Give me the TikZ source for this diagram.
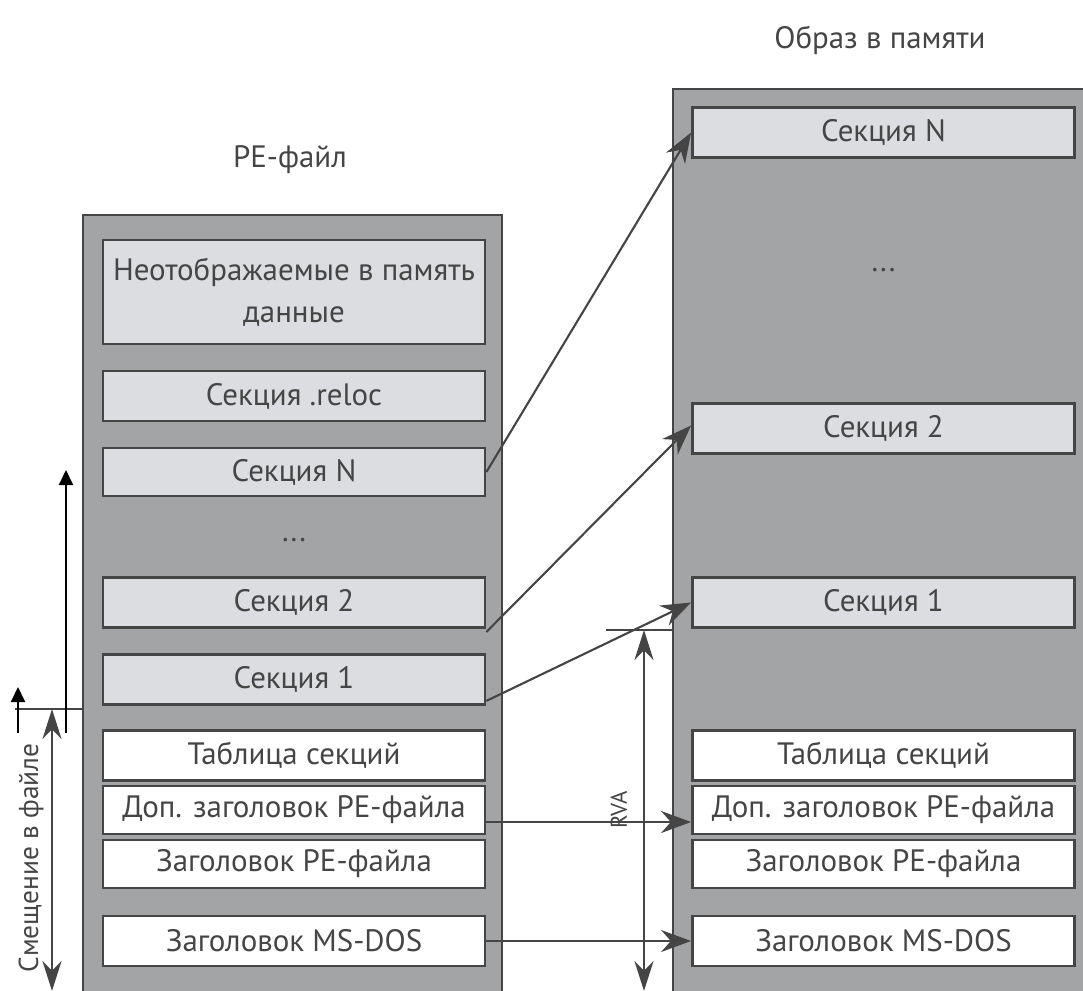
\documentclass[tikz,border=0pt]{standalone}
\usepackage{fontspec}
\setmainfont{PT Sans}
\usetikzlibrary{arrows.meta}
\definecolor{frame}{HTML}{A3A4A6}
\definecolor{cell}{HTML}{DCDDE0}
\definecolor{ink}{HTML}{454545}

\begin{document}
\begin{tikzpicture}[x=0.1mm, y=-0.1mm,
    every node/.style={font=\fontsize{8.8}{12}\selectfont, text=ink},
    outer/.style={draw=ink, line width=0.8pt, fill=frame, inner sep=0pt},
    sec/.style={draw=ink, line width=0.8pt, fill=cell, inner sep=0pt, minimum width=38.2mm, minimum height=5mm, align=center},
    hdr/.style={sec, fill=white},
    map/.style={draw=ink, line width=0.6pt, -{Stealth[length=3mm, width=2.2mm]}},
    dim/.style={draw=ink, line width=0.7pt, {Stealth[length=3mm, width=1.9mm]}-{Stealth[length=3mm, width=1.9mm]}},
    up/.style={draw=black, line width=0.6pt, -{Triangle[length=1.5mm, width=1.4mm]}}]
  \useasboundingbox (0,0) rectangle (1083,991);
  % outer blocks
  \node[outer, minimum width=41.9mm, minimum height=77.8mm] (pefile) at (292.5,604) {};
  \node[outer, minimum width=42mm, minimum height=90.8mm] (image) at (883,543) {};
  \node (petitle) at (290,160) {PE-файл};
  \node (imgtitle) at (880,40) {Образ в памяти};
  % PE file
  \node[sec, minimum height=10.4mm] (lraw) at (294,292) {Неотображаемые в память\\данные};
  \node[sec] (lreloc) at (294,396) {Секция .reloc};
  \node[sec, minimum height=4.8mm] (lsecN) at (294,472) {Секция N};
  \node (ldots) at (294,540) {...};
  \node[sec] (lsec2) at (294,602.5) {Секция 2};
  \node[sec] (lsec1) at (294,679.5) {Секция 1};
  \node[hdr] (ltab) at (294,755.5) {Таблица секций};
  \node[hdr, minimum height=4.8mm] (lopt) at (294,810) {Доп. заголовок PE-файла};
  \node[hdr, minimum height=4.8mm] (lhdr) at (294,864) {Заголовок PE-файла};
  \node[hdr] (ldos) at (294,941) {Заголовок MS-DOS};
  % memory image
  \node[sec] (rsecN) at (883.5,132.5) {Секция N};
  \node (rdots) at (883.5,270) {...};
  \node[sec] (rsec2) at (883.5,428.5) {Секция 2};
  \node[sec] (rsec1) at (883.5,602.5) {Секция 1};
  \node[hdr] (rtab) at (883.5,755.5) {Таблица секций};
  \node[hdr, minimum height=4.8mm] (ropt) at (883.5,810) {Доп. заголовок PE-файла};
  \node[hdr, minimum height=4.8mm] (rhdr) at (883.5,864) {Заголовок PE-файла};
  \node[hdr] (rdos) at (883.5,941) {Заголовок MS-DOS};
  % mapping
  \draw[map] (lsecN.east) -- (rsecN.west);
  \draw[map] ([yshift=-0.3mm]lsec2.south east) -- ([yshift=0.3mm]rsec2.west);
  \draw[map] ([yshift=0.5mm]lsec1.south east) -- (rsec1.west);
  \draw[map] ([yshift=-1.2mm]lopt.east) -- ([yshift=-1.2mm]ropt.west);
  \draw[map] (ldos.east) -- (rdos.west);
  % file offset
  \coordinate (offl) at (15,709);
  \coordinate (offr) at (83,709);
  \coordinate (offtop) at (52,709);
  \coordinate (offbot) at (52,991);
  \draw[draw=ink, line width=0.6pt] (offl) -- (offr);
  \draw[dim] (offtop) -- (offbot);
  \draw[up] (66,733) coordinate (longfoot) -- (66,470) coordinate (longtip);
  \draw[up] (18,733) coordinate (shortfoot) -- (18,687) coordinate (shorttip);
  \node[rotate=90, font=\fontsize{7.8}{10}\selectfont] (offlabel) at (31,858) {Смещение в файле};
  % RVA
  \coordinate (rval) at (606,630);
  \coordinate (rvar) at (673,630);
  \coordinate (rvatop) at (644,630);
  \coordinate (rvabot) at (644,991);
  \draw[draw=ink, line width=0.6pt] (rval) -- (rvar);
  \draw[dim] (rvatop) -- (rvabot);
  \node[rotate=90, font=\fontsize{6.5}{8}\selectfont] (rvalabel) at (619,810) {RVA};
\end{tikzpicture}
\end{document}
